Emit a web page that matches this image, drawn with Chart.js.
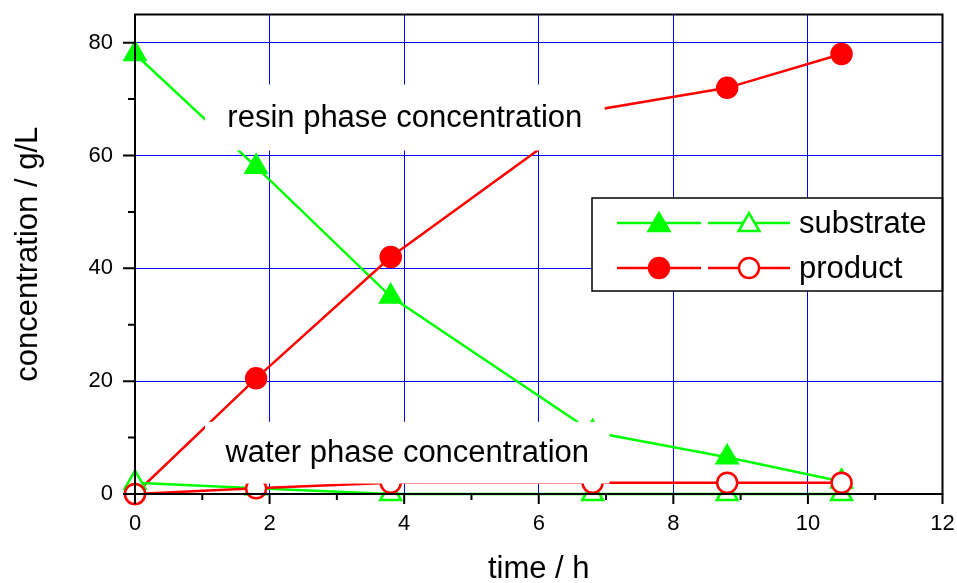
<!DOCTYPE html>
<html>
<head>
<meta charset="utf-8">
<script src="https://cdn.jsdelivr.net/npm/chart.js@4/dist/chart.umd.min.js"></script>
<style>
  html, body { margin: 0; padding: 0; background: #fff; }
  #wrap { width: 957px; height: 583px; }
</style>
</head>
<body>
<div id="wrap"><canvas id="chart"></canvas></div>
<script>
/* Resin vs water phase concentrations over time. */

const GREEN = '#00ff00';
const RED = '#ff0000';
const GRID = '#0000ff';
const FONT = "Arial, 'Liberation Sans', Helvetica, sans-serif";

// time / h
const times = [0, 1.8, 3.8, 6.8, 8.8, 10.5];
// concentration / g/L
const resinSubstrate = [78, 58, 35, 11, 6.5, 2.2];
const resinProduct = [0, 20.5, 42, 68, 72, 78];
const waterSubstrate = [2, 1, 0, 0, 0, 0];
const waterProduct = [0, 1, 2, 2, 2, 2];

const xMajor = [0, 2, 4, 6, 8, 10, 12];
const xMinor = [1, 3, 5, 7, 9, 11];
const yMajor = [0, 20, 40, 60, 80];
const yMinor = [10, 30, 50, 70];

const legendItems = ['substrate', 'product'];
const resinLabel = 'resin phase concentration';
const waterLabel = 'water phase concentration';

const pts = (ys) => times.map((t, i) => ({ x: t, y: ys[i] }));

function series(label, ys, colour, style, filled) {
  return {
    label,
    data: pts(ys),
    borderColor: colour,
    borderWidth: 2.5,
    pointStyle: style,
    pointRadius: style === 'triangle' ? 12 : 10,
    pointBorderWidth: 2.5,
    pointBorderColor: colour,
    pointBackgroundColor: filled ? colour : '#ffffff',
    clip: false,
    tension: 0,
  };
}

function marker(ctx, style, x, y, colour, filled) {
  ctx.save();
  ctx.beginPath();
  if (style === 'triangle') {
    const r = 12;
    let a = 0;
    ctx.moveTo(x + Math.sin(a) * r, y - Math.cos(a) * r);
    a += Math.PI * 2 / 3;
    ctx.lineTo(x + Math.sin(a) * r, y - Math.cos(a) * r);
    a += Math.PI * 2 / 3;
    ctx.lineTo(x + Math.sin(a) * r, y - Math.cos(a) * r);
    ctx.closePath();
  } else {
    ctx.arc(x, y, 10, 0, Math.PI * 2);
  }
  ctx.fillStyle = filled ? colour : '#ffffff';
  ctx.fill();
  ctx.lineWidth = 2.5;
  ctx.strokeStyle = colour;
  ctx.stroke();
  ctx.restore();
}

function seg(ctx, x1, x2, y, colour) {
  ctx.beginPath();
  ctx.moveTo(x1, y);
  ctx.lineTo(x2, y);
  ctx.lineWidth = 2.5;
  ctx.strokeStyle = colour;
  ctx.stroke();
}

// keep the plot box where the reference has it: no extra room for edge labels
function noEdgePad(s) {
  s.paddingTop = 0;
  s.paddingBottom = 0;
  s.paddingLeft = 0;
  s.paddingRight = 0;
}

const decor = {
  id: 'decor',
  afterDatasetsDraw(chart) {
    const { ctx, chartArea: a, scales: { x, y } } = chart;
    ctx.save();

    // label boxes
    const boxes = [
      { text: resinLabel, x0: 1.04, x1: 6.98, y0: 60.9, y1: 72.6 },
      { text: waterLabel, x0: 1.04, x1: 7.05, y0: 1.85, y1: 12.8 },
    ];
    boxes.forEach(b => {
      const l = x.getPixelForValue(b.x0), r = x.getPixelForValue(b.x1);
      const t = y.getPixelForValue(b.y1), btm = y.getPixelForValue(b.y0);
      ctx.fillStyle = '#ffffff';
      ctx.fillRect(l, t, r - l, btm - t);
      ctx.fillStyle = '#000';
      ctx.font = `31px ${FONT}`;
      ctx.textAlign = 'center';
      ctx.textBaseline = 'middle';
      ctx.fillText(b.text, (l + r) / 2, (t + btm) / 2 + 1);
    });

    // legend
    const lx = 592, ly = 198, lw = a.right - lx, lh = 93;
    ctx.fillStyle = '#fff';
    ctx.fillRect(lx, ly, lw, lh);
    ctx.lineWidth = 1.5;
    ctx.strokeStyle = '#000';
    ctx.strokeRect(lx, ly, lw, lh);
    const rows = [
      { text: legendItems[0], colour: GREEN, style: 'triangle', yy: 223 },
      { text: legendItems[1], colour: RED, style: 'circle', yy: 268 },
    ];
    rows.forEach(r => {
      seg(ctx, 617, 701, r.yy, r.colour);
      seg(ctx, 708, 790, r.yy, r.colour);
      marker(ctx, r.style, 659, r.yy + (r.style === 'triangle' ? 2 : 0), r.colour, true);
      marker(ctx, r.style, 749, r.yy + (r.style === 'triangle' ? 2 : 0), r.colour, false);
      ctx.fillStyle = '#000';
      ctx.font = `31px ${FONT}`;
      ctx.textAlign = 'left';
      ctx.textBaseline = 'middle';
      ctx.fillText(r.text, 799, r.yy + 1);
    });

    // frame and tick marks
    ctx.lineWidth = 2;
    ctx.strokeStyle = '#000';
    ctx.strokeRect(a.left, a.top, a.right - a.left, a.bottom - a.top);
    ctx.beginPath();
    xMajor.forEach(v => { const p = x.getPixelForValue(v); ctx.moveTo(p, a.bottom); ctx.lineTo(p, a.bottom + 10); });
    xMinor.forEach(v => { const p = x.getPixelForValue(v); ctx.moveTo(p, a.bottom); ctx.lineTo(p, a.bottom + 6); });
    yMajor.forEach(v => { const p = y.getPixelForValue(v); ctx.moveTo(a.left, p); ctx.lineTo(a.left - 12, p); });
    yMinor.forEach(v => { const p = y.getPixelForValue(v); ctx.moveTo(a.left, p); ctx.lineTo(a.left - 7, p); });
    ctx.stroke();
    ctx.restore();
  },
};

new Chart(document.getElementById('chart'), {
  type: 'line',
  data: {
    datasets: [
      series('water product', waterProduct, RED, 'circle', false),
      series('water substrate', waterSubstrate, GREEN, 'triangle', false),
      series('resin product', resinProduct, RED, 'circle', true),
      series('resin substrate', resinSubstrate, GREEN, 'triangle', true),
    ],
  },
  options: {
    responsive: true,
    maintainAspectRatio: false,
    animation: false,
    layout: { padding: { top: 10, right: 14, left: 0, bottom: 0 } },
    plugins: { legend: { display: false }, tooltip: { enabled: false } },
    scales: {
      x: {
        type: 'linear',
        min: 0,
        max: 12,
        afterFit: (s) => { s.height = 89; noEdgePad(s); },
        ticks: {
          stepSize: 2,
          color: '#000',
          padding: 17,
          font: { size: 22, family: FONT, lineHeight: 1.2 },
        },
        grid: {
          drawTicks: false,
          lineWidth: 1,
          color: (c) => (c.tick && c.tick.value > 0 && c.tick.value < 12) ? GRID : 'rgba(0,0,0,0)',
        },
        border: { display: false },
        title: {
          display: true,
          text: 'time / h',
          color: '#000',
          font: { size: 31, family: FONT, lineHeight: 0.9 },
          padding: { top: 0, bottom: 0 },
        },
      },
      y: {
        type: 'linear',
        min: 0,
        max: 85,
        afterFit: (s) => { s.width = 135; noEdgePad(s); },
        ticks: {
          stepSize: 20,
          color: '#000',
          padding: 22,
          font: { size: 22, family: FONT, lineHeight: 1.2 },
          callback: (v) => (v % 20 === 0 ? v : ''),
        },
        grid: {
          drawTicks: false,
          lineWidth: 1,
          color: (c) => (c.tick && c.tick.value > 0 && c.tick.value % 20 === 0) ? GRID : 'rgba(0,0,0,0)',
        },
        border: { display: false },
        title: {
          display: true,
          text: 'concentration / g/L',
          color: '#000',
          font: { size: 31, family: FONT, lineHeight: 0.9 },
          padding: { top: 15, bottom: 0 },
        },
      },
    },
  },
  plugins: [decor],
});
</script>
</body>
</html>
